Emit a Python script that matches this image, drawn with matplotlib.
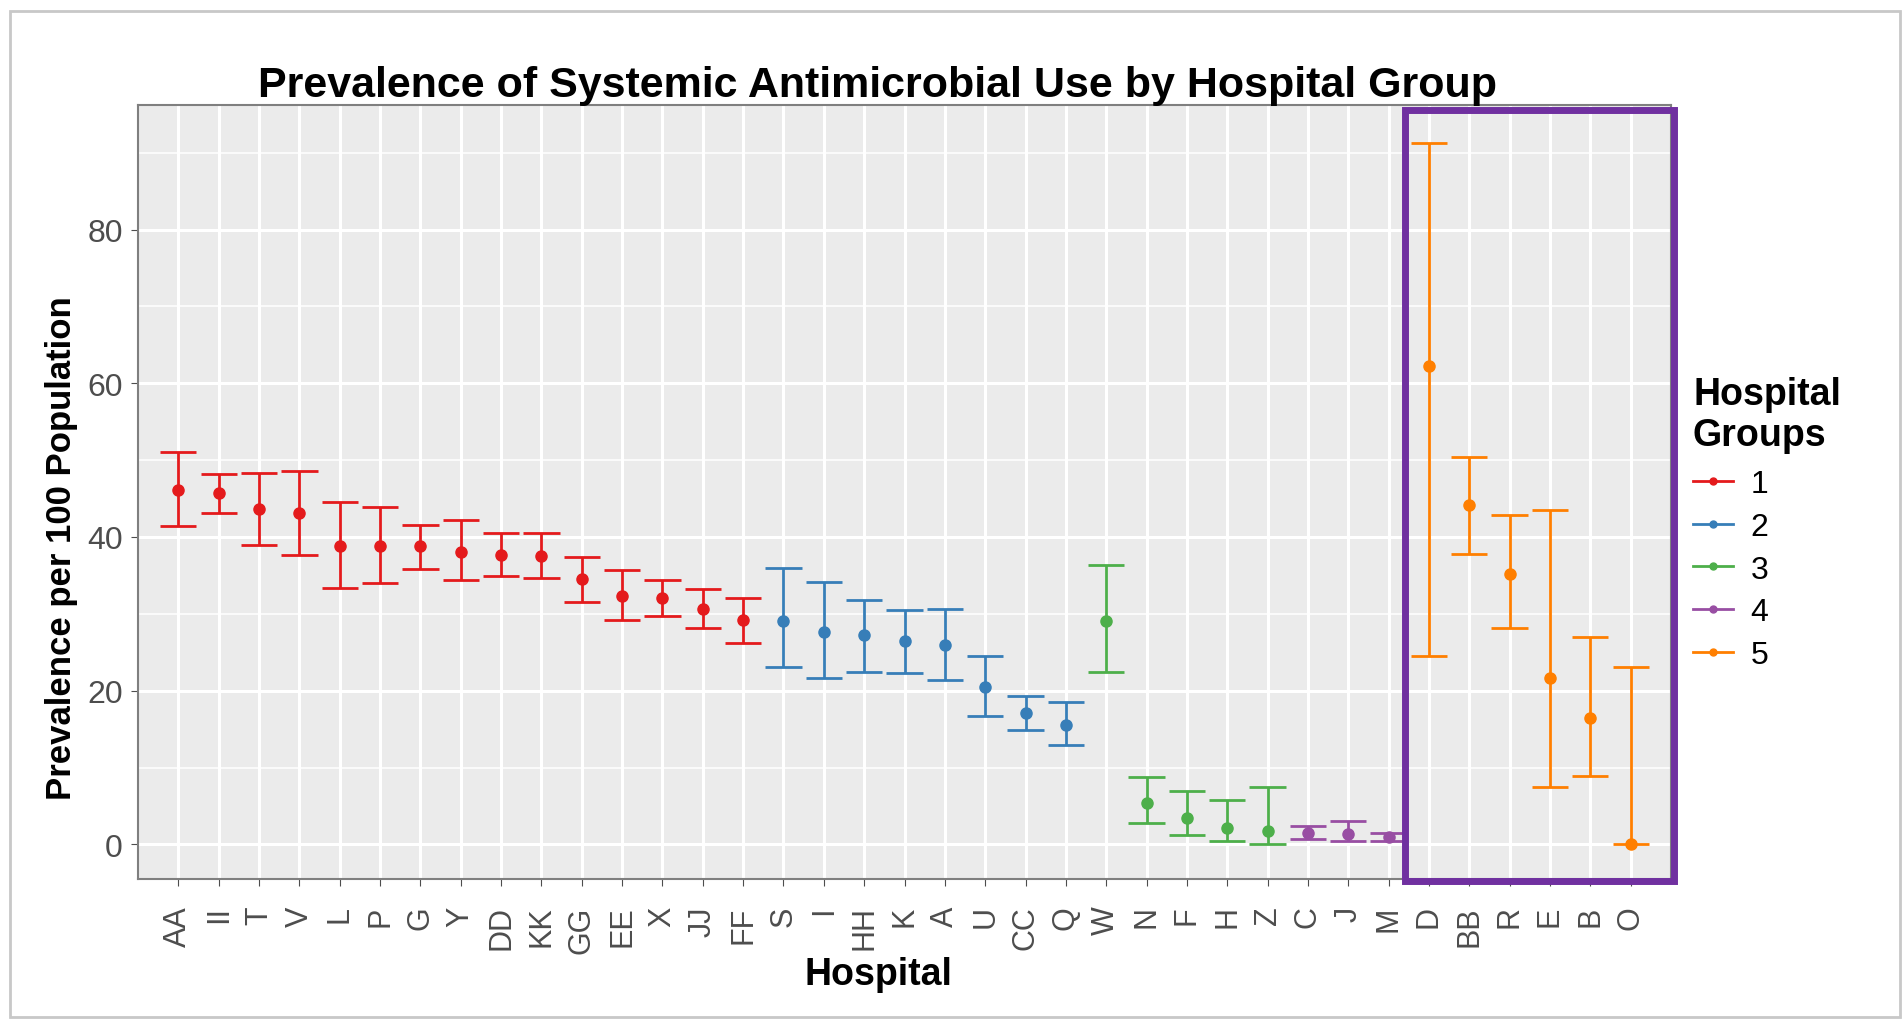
import matplotlib
matplotlib.use("Agg")
import matplotlib.pyplot as plt
import matplotlib.transforms as mtrans
from matplotlib.lines import Line2D
from matplotlib.patches import Rectangle
from matplotlib.ticker import MultipleLocator

plt.rcParams['font.family'] = ['Liberation Sans', 'DejaVu Sans']

# hospitals in plotted order, with their group and estimate + 95% interval
hospitals = ['AA', 'II', 'T', 'V', 'L', 'P', 'G', 'Y', 'DD', 'KK', 'GG', 'EE', 'X', 'JJ', 'FF',
             'S', 'I', 'HH', 'K', 'A', 'U', 'CC', 'Q',
             'W', 'N', 'F', 'H', 'Z',
             'C', 'J', 'M',
             'D', 'BB', 'R', 'E', 'B', 'O']
groups = [1] * 15 + [2] * 8 + [3] * 5 + [4] * 3 + [5] * 6
prevalence = [46.1, 45.7, 43.7, 43.1, 38.8, 38.8, 38.8, 38.1, 37.7, 37.5, 34.5, 32.3, 32.0, 30.6, 29.2,
              29.1, 27.7, 27.2, 26.5, 25.9, 20.5, 17.1, 15.6,
              29.1, 5.4, 3.5, 2.2, 1.8,
              1.5, 1.3, 1.0,
              62.3, 44.2, 35.2, 21.7, 16.5, 0.1]
lower = [41.4, 43.1, 39.0, 37.6, 33.4, 34.0, 35.8, 34.4, 34.9, 34.6, 31.6, 29.2, 29.7, 28.1, 26.2,
         23.1, 21.6, 22.4, 22.3, 21.4, 16.7, 14.9, 12.9,
         22.4, 2.8, 1.2, 0.5, 0.0,
         0.7, 0.5, 0.5,
         24.5, 37.8, 28.1, 7.5, 8.9, 0.0]
upper = [51.0, 48.2, 48.3, 48.6, 44.5, 43.9, 41.6, 42.2, 40.5, 40.5, 37.4, 35.7, 34.4, 33.2, 32.1,
         35.9, 34.2, 31.8, 30.5, 30.6, 24.5, 19.3, 18.5,
         36.4, 8.8, 7.0, 5.8, 7.5,
         2.4, 3.0, 1.5,
         91.3, 50.4, 42.8, 43.5, 27.0, 23.1]
group_names = [1, 2, 3, 4, 5]
group_colors = ['#E41A1C', '#377EB8', '#4DAF4A', '#984EA3', '#FF7F00']

W, H = 1903, 1020
fig = plt.figure(figsize=(W / 100, H / 100), dpi=100)
ax = fig.add_axes([138 / W, 140 / H, 1533 / W, 774 / H])

ax.set_facecolor('#EBEBEB')
ax.set_xlim(-1, len(hospitals))
ax.set_ylim(-4.5, 96.2)
ax.yaxis.set_major_locator(MultipleLocator(20))
ax.yaxis.set_minor_locator(MultipleLocator(10))
ax.grid(which='major', color='white', lw=2.2)
ax.grid(which='minor', axis='y', color='white', lw=1.1)
ax.set_axisbelow(True)

color_of = dict(zip(group_names, group_colors))
xs = list(range(len(hospitals)))
for x, g, p, lo, hi in zip(xs, groups, prevalence, lower, upper):
    c = color_of[g]
    ax.vlines(x, lo, hi, color=c, lw=2)
    ax.hlines([lo, hi], x - 0.45, x + 0.45, color=c, lw=2)
    ax.plot(x, p, 'o', color=c, markersize=8, zorder=3)

ax.set_xticks(xs)
ax.set_xticklabels(hospitals, rotation=90, fontsize=22, color='#4D4D4D')
ax.tick_params(axis='y', labelsize=23, labelcolor='#4D4D4D')
ax.tick_params(which='major', length=5, color='#4D4D4D', pad=6)
ax.tick_params(axis='x', pad=14)
ax.tick_params(which='minor', length=0)
for s in ax.spines.values():
    s.set_color('#7F7F7F')
    s.set_linewidth(1.5)

ax.set_xlabel('Hospital', fontsize=27, fontweight='bold', va='center')
ax.xaxis.set_label_coords((878 - 138) / 1533, -(975 - 880) / 774)
ax.set_ylabel('Prevalence per 100 Population', fontsize=25, fontweight='bold', va='center')
ax.yaxis.set_label_coords(-(138 - 62) / 1533, (880 - 548) / 774)

fig.text(877 / W, 1 - 97 / H, 'Prevalence of Systemic Antimicrobial Use by Hospital Group',
         ha='center', va='baseline', fontsize=31, fontweight='bold')

# legend: title as two lines, entries via ax.legend
fig.text(1693 / W, 1 - 405 / H, 'Hospital', ha='left', va='baseline', fontsize=27, fontweight='bold')
fig.text(1693 / W, 1 - 446 / H, 'Groups', ha='left', va='baseline', fontsize=27, fontweight='bold')
handles = [Line2D([], [], color=c, lw=2, marker='o', markersize=5) for c in group_colors]
ax.legend(handles, [str(g) for g in group_names],
          loc='upper left', bbox_to_anchor=(1693 / W, 1 - 470 / H),
          bbox_transform=fig.transFigure, frameon=False, fontsize=23,
          handlelength=1.25, handletextpad=0.55, labelspacing=0.4,
          borderpad=0, borderaxespad=0)

# highlight box round group 5
trans = mtrans.blended_transform_factory(ax.transData, ax.transAxes)
ax.add_patch(Rectangle((30.41, -0.003), 6.67, 0.997, transform=trans, fill=False,
                       edgecolor='#7030A0', lw=5, clip_on=False, zorder=5))

# outer frame of the screenshot
fig.patches.append(Rectangle((10 / W, 2 / H), 1890 / W, 1006 / H,
                             transform=fig.transFigure, fill=False, edgecolor='#C8C8C8', lw=2))

fig.savefig('out.png', dpi=100)
